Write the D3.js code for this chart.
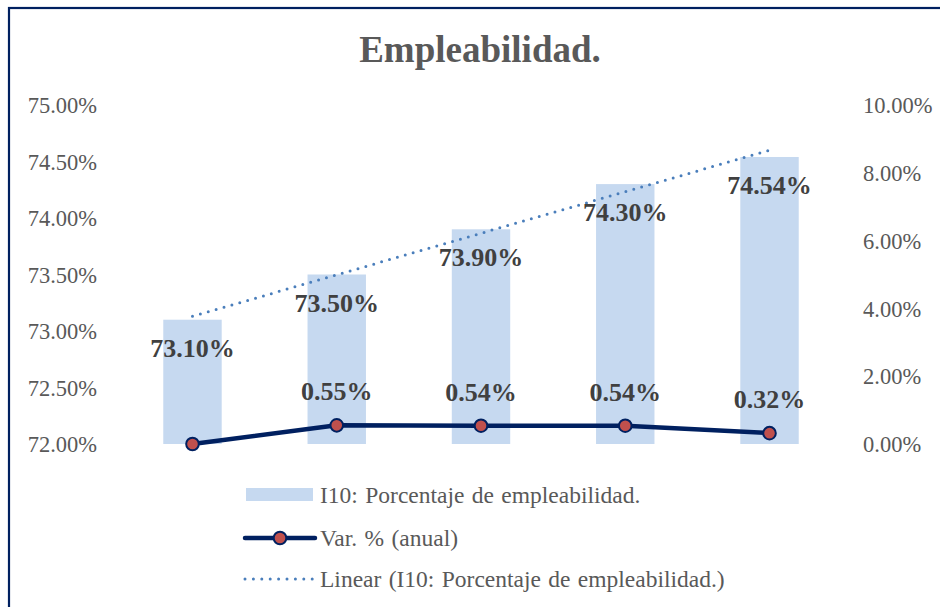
<!DOCTYPE html>
<html>
<head>
<meta charset="utf-8">
<script src="https://cdn.jsdelivr.net/npm/d3@7"></script>
<style>
  html, body { margin: 0; padding: 0; background: #fff; }
  svg { display: block; font-family: "Liberation Serif", "Times New Roman", serif; }
</style>
</head>
<body>
<div id="chart"></div>
<script>
// data
const categories = ['2019', '2020', '2021', '2022', '2023'];
const empleabilidad = [73.10, 73.50, 73.90, 74.30, 74.54];
const variacion = [0.00, 0.55, 0.54, 0.54, 0.32];
const variacionLabels = ['', '0.55%', '0.54%', '0.54%', '0.32%'];
const trendEnds = [73.13, 74.60];
const leftTicks = [72, 72.5, 73, 73.5, 74, 74.5, 75];
const rightTicks = [0, 2, 4, 6, 8, 10];
const legendLabels = [
  'I10: Porcentaje de empleabilidad.',
  'Var. % (anual)',
  'Linear (I10: Porcentaje de empleabilidad.)'
];

const width = 940,
      height = 607,
      plotTop = 105,
      plotBottom = 444;

const navy = '#002060',
      barFill = '#c6d9f0',
      markerFill = '#c0504d',
      trendColor = '#4a7ebb',
      axisText = '#595959',
      labelText = '#404040';

const svg = d3.select('#chart').append('svg')
  .attr('width', width)
  .attr('height', height);

// frame
svg.append('rect')
  .attr('x', 9).attr('y', 8)
  .attr('width', 960).attr('height', 640)
  .attr('fill', 'none')
  .attr('stroke', navy)
  .attr('stroke-width', 2.2);

svg.append('text')
  .attr('x', 480).attr('y', 62)
  .attr('text-anchor', 'middle')
  .attr('font-size', 37)
  .attr('font-weight', 'bold')
  .attr('fill', axisText)
  .text('Empleabilidad.');

const x = d3.scaleBand()
  .domain(categories)
  .range([120, 842])
  .paddingInner(0.595)
  .paddingOuter(0.3);

const yLeft = d3.scaleLinear().domain([72, 75]).range([plotBottom, plotTop]);
const yRight = d3.scaleLinear().domain([0, 10]).range([plotBottom, plotTop]);

const cx = d => x(d) + x.bandwidth() / 2;

// axes (text only, no lines)
const leftAxis = svg.append('g')
  .attr('transform', 'translate(97,0)')
  .call(d3.axisLeft(yLeft).tickValues(leftTicks).tickSize(0).tickPadding(0)
    .tickFormat(d => d3.format('.2f')(d) + '%'));
const rightAxis = svg.append('g')
  .attr('transform', 'translate(863,0)')
  .call(d3.axisRight(yRight).tickValues(rightTicks).tickSize(0).tickPadding(0)
    .tickFormat(d => d3.format('.2f')(d) + '%'));
[leftAxis, rightAxis].forEach(g => {
  g.attr('font-family', null);
  g.select('.domain').remove();
  g.selectAll('text')
    .attr('font-size', 22.5)
    .attr('fill', axisText)
    .attr('dy', '0.34em');
});

// bars
svg.selectAll('rect.bar')
  .data(empleabilidad)
  .enter()
  .append('rect')
  .attr('class', 'bar')
  .attr('x', (d, i) => x(categories[i]))
  .attr('y', d => yLeft(d))
  .attr('width', x.bandwidth())
  .attr('height', d => plotBottom - yLeft(d))
  .attr('fill', barFill);

// trend line
svg.append('line')
  .attr('x1', cx(categories[0]))
  .attr('y1', yLeft(trendEnds[0]))
  .attr('x2', cx(categories[categories.length - 1]))
  .attr('y2', yLeft(trendEnds[1]))
  .attr('stroke', trendColor)
  .attr('stroke-width', 3)
  .attr('stroke-linecap', 'round')
  .attr('stroke-dasharray', '0 8.2');

// bar labels
svg.selectAll('text.barlabel')
  .data(empleabilidad)
  .enter()
  .append('text')
  .attr('class', 'barlabel')
  .attr('x', (d, i) => cx(categories[i]))
  .attr('y', d => yLeft(d) + 37)
  .attr('text-anchor', 'middle')
  .attr('font-size', 26)
  .attr('font-weight', 'bold')
  .attr('fill', labelText)
  .text(d => d.toFixed(2) + '%');

// variation line
const line = d3.line()
  .x((d, i) => cx(categories[i]))
  .y(d => yRight(d));

svg.append('path')
  .datum(variacion)
  .attr('d', line)
  .attr('fill', 'none')
  .attr('stroke', navy)
  .attr('stroke-width', 4.5)
  .attr('stroke-linejoin', 'round');

svg.selectAll('circle.pt')
  .data(variacion)
  .enter()
  .append('circle')
  .attr('class', 'pt')
  .attr('cx', (d, i) => cx(categories[i]))
  .attr('cy', d => yRight(d))
  .attr('r', 6.3)
  .attr('fill', markerFill)
  .attr('stroke', navy)
  .attr('stroke-width', 2);

svg.selectAll('text.varlabel')
  .data(variacion)
  .enter()
  .append('text')
  .attr('class', 'varlabel')
  .attr('x', (d, i) => cx(categories[i]))
  .attr('y', d => yRight(d) - 25)
  .attr('text-anchor', 'middle')
  .attr('font-size', 26)
  .attr('font-weight', 'bold')
  .attr('fill', labelText)
  .text((d, i) => variacionLabels[i]);

// legend
const legend = svg.append('g');
legend.append('rect')
  .attr('x', 246).attr('y', 488)
  .attr('width', 67).attr('height', 13)
  .attr('fill', barFill);
legend.append('line')
  .attr('x1', 245).attr('x2', 315)
  .attr('y1', 538).attr('y2', 538)
  .attr('stroke', navy).attr('stroke-width', 4.5)
  .attr('stroke-linecap', 'round');
legend.append('circle')
  .attr('cx', 280).attr('cy', 538).attr('r', 6.3)
  .attr('fill', markerFill).attr('stroke', navy).attr('stroke-width', 2);
legend.append('line')
  .attr('x1', 245).attr('x2', 313)
  .attr('y1', 579).attr('y2', 579)
  .attr('stroke', trendColor).attr('stroke-width', 3)
  .attr('stroke-linecap', 'round')
  .attr('stroke-dasharray', '0 8.4');

legend.selectAll('text')
  .data(legendLabels)
  .enter()
  .append('text')
  .attr('x', 320)
  .attr('y', (d, i) => [503, 546, 587][i])
  .attr('font-size', 23.5)
  .attr('word-spacing', 1.5)
  .attr('fill', axisText)
  .text(d => d);
</script>
</body>
</html>
